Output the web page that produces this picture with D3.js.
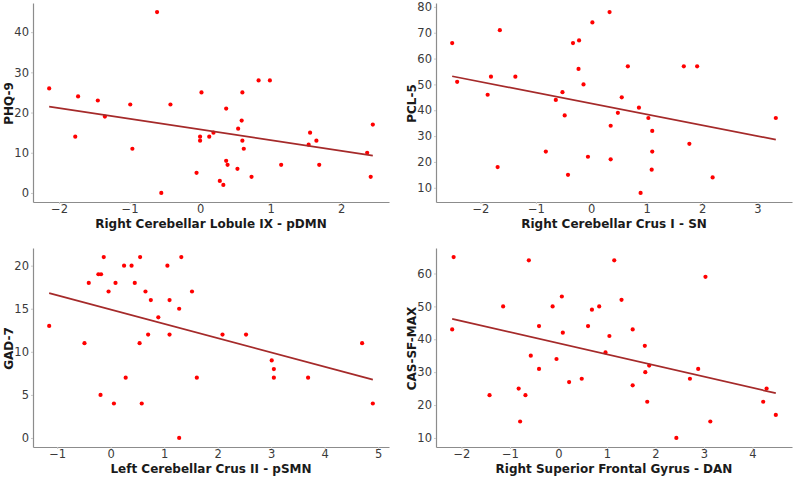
<!DOCTYPE html>
<html lang="en">
<head>
<meta charset="UTF-8">
<title>Cerebellar connectivity vs symptom scores</title>
<script src="https://d3js.org/d3.v7.min.js"></script>
<style>
    body { margin: 0; background: #fff; }
    svg { display: block; font-family: "DejaVu Sans", sans-serif; }
    .tick text { font-size: 11.5px; fill: #3a3a3a; }
    .axis-label { font-size: 12px; font-weight: bold; fill: #1a1a1a; }
</style>
</head>
<body>
<svg id="chart"></svg>
<script>
// ---- data ----
const phqX = [-2.14, -1.73, -1.77, -1.45, -1.35, -0.99, -0.96, -0.61, -0.42, -0.55, -0.05, 0.0, 0.0, 0.02, 0.13, 0.19, 0.37, 0.37, 0.39, 0.28, 0.33, 0.53, 0.54, 0.59, 0.60, 0.60, 0.62, 0.73, 0.83, 0.99, 1.15, 1.54, 1.56, 1.65, 1.69, 2.37, 2.45, 2.42];
const phqY = [26, 24, 14, 23, 19, 22, 11, 45, 22, 0, 5, 14, 13, 25, 14, 15, 21, 8, 7, 3, 2, 6, 16, 18, 25, 13, 11, 4, 28, 28, 7, 12, 15, 13, 7, 10, 17, 4];

const pclX = [-2.51, -2.42, -1.87, -1.81, -1.65, -1.69, -1.37, -0.82, -0.64, -0.52, -0.48, -0.42, -0.33, -0.22, -0.23, -0.14, -0.06, 0.02, 0.33, 0.66, 0.55, 0.48, 0.35, 0.35, 0.86, 1.03, 1.10, 1.10, 1.09, 0.89, 1.67, 1.91, 1.77, 2.19, 3.33];
const pclY = [66, 51, 46, 53, 71, 18, 53, 24, 44, 47, 38, 15, 66, 67, 56, 50, 22, 74, 78, 57, 45, 39, 34, 21, 41, 37, 32, 24, 17, 8, 57, 57, 27, 14, 37];

const gadX = [-1.15, -0.49, -0.41, -0.23, -0.18, -0.13, -0.04, 0.09, -0.19, 0.06, 0.25, 0.28, 0.39, 0.45, 0.55, 0.54, 0.58, 0.65, 0.75, 0.70, 0.89, 1.06, 1.10, 1.10, 1.32, 1.28, 1.28, 1.52, 1.61, 2.09, 2.53, 3.01, 3.05, 3.05, 3.69, 4.70, 4.90];
const gadY = [13, 11, 18, 19, 19, 21, 17, 18, 5, 4, 20, 7, 20, 18, 21, 11, 4, 17, 16, 12, 14, 20, 16, 12, 21, 15, 0, 17, 7, 12, 12, 9, 8, 7, 7, 11, 4];

const casX = [-2.16, -2.19, -1.42, -1.14, -0.82, -0.79, -0.68, -0.61, -0.57, -0.40, -0.40, -0.12, -0.04, 0.07, 0.09, 0.22, 0.48, 0.61, 0.69, 0.84, 0.97, 1.05, 1.15, 1.30, 1.53, 1.53, 1.78, 1.79, 1.87, 1.83, 2.43, 2.71, 2.88, 3.03, 3.13, 4.22, 4.29, 4.48];
const casY = [65, 43, 23, 50, 25, 15, 23, 64, 35, 44, 31, 50, 34, 53, 42, 27, 28, 44, 49, 50, 36, 41, 64, 52, 43, 26, 38, 30, 32, 21, 10, 28, 31, 59, 15, 21, 25, 17];

// fitted lines [slope, intercept]
const phqFit = [-2.65, 15.8];
const pclFit = [-4.2, 42.6];
const gadFit = [-1.66, 14.9];
const casFit = [-3.39, 38.8];

const phqXTicks = [-2, -1, 0, 1, 2], phqYTicks = [0, 10, 20, 30, 40];
const pclXTicks = [-2, -1, 0, 1, 2, 3], pclYTicks = [10, 20, 30, 40, 50, 60, 70, 80];
const gadXTicks = [-1, 0, 1, 2, 3, 4, 5], gadYTicks = [0, 5, 10, 15, 20];
const casXTicks = [-2, -1, 0, 1, 2, 3, 4], casYTicks = [10, 20, 30, 40, 50, 60];

const panels = [
    { xs: phqX, ys: phqY, fit: phqFit, xt: phqXTicks, yt: phqYTicks, xlab: "Right Cerebellar Lobule IX - pDMN", ylab: "PHQ-9", left: 33, top: 3 },
    { xs: pclX, ys: pclY, fit: pclFit, xt: pclXTicks, yt: pclYTicks, xlab: "Right Cerebellar Crus I - SN", ylab: "PCL-5", left: 436, top: 3 },
    { xs: gadX, ys: gadY, fit: gadFit, xt: gadXTicks, yt: gadYTicks, xlab: "Left Cerebellar Crus II - pSMN", ylab: "GAD-7", left: 33, top: 248 },
    { xs: casX, ys: casY, fit: casFit, xt: casXTicks, yt: casYTicks, xlab: "Right Superior Frontal Gyrus - DAN", ylab: "CAS-SF-MAX", left: 436, top: 248 }
];

const W = 794, H = 478;
const pw = 356, ph = 199;
const fmt = d3.format("d");

const svg = d3.select("#chart").attr("width", W).attr("height", H);

// matplotlib-style 5% padding around data extent
function padded(vals) {
    const [a, b] = d3.extent(vals);
    const m = (b - a) * 0.05;
    return [a - m, b + m];
}

panels.forEach(p => {
    const g = svg.append("g").attr("transform", `translate(${p.left},${p.top})`);

    const x = d3.scaleLinear().domain(padded(p.xs)).range([0, pw]);
    const y = d3.scaleLinear().domain(padded(p.ys)).range([ph, 0]);

    const xAxis = g.append("g")
        .attr("transform", `translate(0,${ph})`)
        .call(d3.axisBottom(x).tickValues(p.xt).tickFormat(fmt).tickSize(2).tickPadding(1).tickSizeOuter(0));
    const yAxis = g.append("g")
        .call(d3.axisLeft(y).tickValues(p.yt).tickFormat(fmt).tickSize(2).tickPadding(2).tickSizeOuter(0));

    [xAxis, yAxis].forEach(a => {
        a.select(".domain").attr("stroke", "#8c8c8c").attr("stroke-width", 1.2);
        a.selectAll(".tick line").attr("stroke", "#c8c8c8");
        a.attr("font-size", null).attr("font-family", null);
    });

    const pts = p.xs.map((v, i) => [v, p.ys[i]]);
    g.selectAll("circle")
        .data(pts)
        .join("circle")
        .attr("cx", d => x(d[0]))
        .attr("cy", d => y(d[1]))
        .attr("r", 2.1)
        .attr("fill", "#ff0000");

    const [x0, x1] = d3.extent(p.xs);
    const line = d3.line().x(d => x(d)).y(d => y(p.fit[0] * d + p.fit[1]));
    g.append("path")
        .attr("d", line([x0, x1]))
        .attr("fill", "none")
        .attr("stroke", "#a52a2a")
        .attr("stroke-width", 1.7);

    g.append("text")
        .attr("class", "axis-label")
        .attr("x", pw / 2)
        .attr("y", ph + 26)
        .attr("text-anchor", "middle")
        .text(p.xlab);

    g.append("text")
        .attr("class", "axis-label")
        .attr("transform", `translate(-20,${ph / 2 + 1}) rotate(-90)`)
        .attr("text-anchor", "middle")
        .text(p.ylab);
});
</script>
</body>
</html>
